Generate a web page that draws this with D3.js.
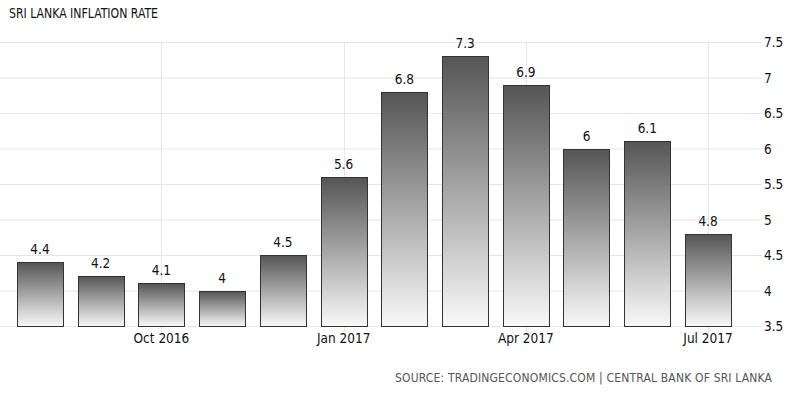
<!DOCTYPE html>
<html lang="en">

<head>
    <meta charset="UTF-8" />
    <title>Sri Lanka Inflation Rate</title>
    <script src="https://d3js.org/d3.v7.js"></script>
    <style>
        body { margin: 0; background: #fff; }
        text { font-family: "DejaVu Sans Condensed", "DejaVu Sans", sans-serif; }
    </style>
</head>

<body>
    <script>
        var w = 800;
        var h = 396;

        // data
        var months = ["Aug 2016", "Sep 2016", "Oct 2016", "Nov 2016", "Dec 2016", "Jan 2017",
            "Feb 2017", "Mar 2017", "Apr 2017", "May 2017", "Jun 2017", "Jul 2017"];
        var rates = [4.4, 4.2, 4.1, 4, 4.5, 5.6, 6.8, 7.3, 6.9, 6, 6.1, 4.8];
        var yTicks = [3.5, 4, 4.5, 5, 5.5, 6, 6.5, 7, 7.5];
        var xTickLabels = ["Oct 2016", "Jan 2017", "Apr 2017", "Jul 2017"];

        var svg = d3.select("body")
            .append("svg")
            .attr("width", w)
            .attr("height", h);

        var xScale = d3.scaleBand()
            .domain(months)
            .range([9.6, 738.4])
            .paddingInner(0.24)
            .paddingOuter(0.12);

        var yScale = d3.scaleLinear()
            .domain([3.5, 7.5])
            .range([326, 42]);

        // gradient for the bars, dark on top
        var grad = svg.append("defs")
            .append("linearGradient")
            .attr("id", "barGrad")
            .attr("x1", 0).attr("y1", 0)
            .attr("x2", 0).attr("y2", 1);
        grad.append("stop").attr("offset", "0%").attr("stop-color", "#555555");
        grad.append("stop").attr("offset", "100%").attr("stop-color", "#f9f9f9");

        // horizontal grid
        svg.append("g")
            .selectAll("line")
            .data(yTicks)
            .enter()
            .append("line")
            .attr("x1", 0)
            .attr("x2", 762)
            .attr("y1", function (d) { return yScale(d) + 0.5; })
            .attr("y2", function (d) { return yScale(d) + 0.5; })
            .attr("stroke", "#e6e6e6")
            .attr("stroke-width", 1);

        // vertical grid at labelled months
        svg.append("g")
            .selectAll("line")
            .data(xTickLabels)
            .enter()
            .append("line")
            .attr("x1", function (d) { return Math.round(xScale(d) + xScale.bandwidth() / 2) + 0.5; })
            .attr("x2", function (d) { return Math.round(xScale(d) + xScale.bandwidth() / 2) + 0.5; })
            .attr("y1", yScale(7.5))
            .attr("y2", yScale(3.5) + 6)
            .attr("stroke", "#e6e6e6");

        // y labels on the right
        svg.append("g")
            .selectAll("text")
            .data(yTicks)
            .enter()
            .append("text")
            .attr("x", 764)
            .attr("y", function (d) { return yScale(d) + 5; })
            .attr("font-size", "13.5px")
            .attr("fill", "#111")
            .text(function (d) { return d; });

        // x labels
        svg.append("g")
            .selectAll("text")
            .data(xTickLabels)
            .enter()
            .append("text")
            .attr("x", function (d) { return xScale(d) + xScale.bandwidth() / 2; })
            .attr("y", 343)
            .attr("text-anchor", "middle")
            .attr("font-size", "13.5px")
            .attr("fill", "#111")
            .text(function (d) { return d; });

        // bars
        svg.append("g")
            .selectAll("rect")
            .data(rates)
            .enter()
            .append("rect")
            .attr("x", function (d, i) { return Math.round(xScale(months[i])) + 0.5; })
            .attr("y", function (d) { return Math.round(yScale(d)) + 0.5; })
            .attr("width", Math.round(xScale.bandwidth()))
            .attr("height", function (d) { return Math.round(yScale(3.5)) - Math.round(yScale(d)); })
            .attr("fill", "url(#barGrad)")
            .attr("stroke", "#333")
            .attr("stroke-width", 1);

        // value labels
        svg.append("g")
            .selectAll("text")
            .data(rates)
            .enter()
            .append("text")
            .attr("x", function (d, i) { return xScale(months[i]) + xScale.bandwidth() / 2; })
            .attr("y", function (d) { return yScale(d) - 8; })
            .attr("text-anchor", "middle")
            .attr("font-size", "13.5px")
            .attr("fill", "#111")
            .text(function (d) { return d; });

        // title
        svg.append("text")
            .attr("x", 9)
            .attr("y", 18)
            .attr("font-size", "14px")
            .attr("font-weight", 500)
            .attr("fill", "#111")
            .attr("textLength", 149)
            .attr("lengthAdjust", "spacingAndGlyphs")
            .text("SRI LANKA INFLATION RATE");

        // source
        svg.append("text")
            .attr("x", 395)
            .attr("y", 382)
            .attr("font-size", "12px")
            .attr("fill", "#555")
            .attr("textLength", 377)
            .attr("lengthAdjust", "spacing")
            .text("SOURCE: TRADINGECONOMICS.COM | CENTRAL BANK OF SRI LANKA");
    </script>
</body>

</html>
